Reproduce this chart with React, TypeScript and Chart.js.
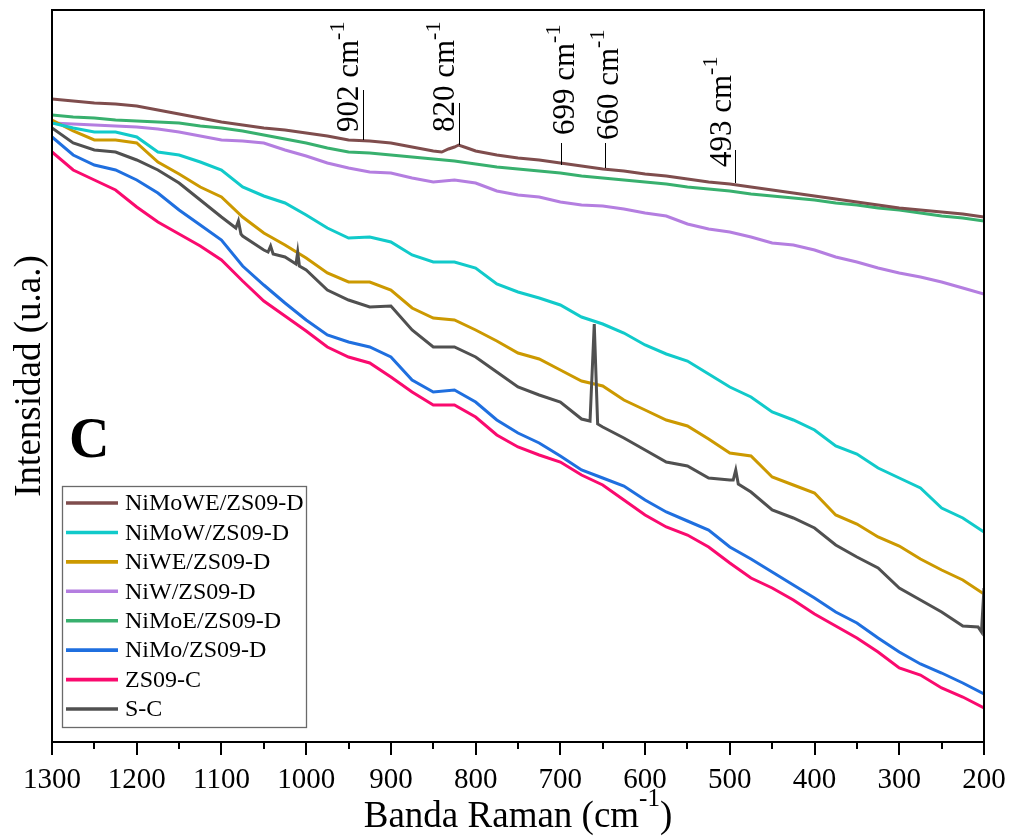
import React, { useEffect, useRef } from 'react';
import { Chart, registerables } from 'chart.js';

Chart.register(...registerables);

// ---------- DATA ----------
const wavenumber = [1300, 1275, 1250, 1225, 1200, 1175, 1150, 1125, 1100, 1075, 1050, 1025, 1000, 975, 950, 925, 900, 875, 850, 825, 800, 775, 750, 725, 700, 675, 650, 625, 600, 575, 550, 525, 500, 475, 450, 425, 400, 375, 350, 325, 300, 275, 250, 225, 200];

const niMoWE = [643, 641, 639, 638, 636, 632, 628, 624, 620, 617, 614, 612, 609, 606, 602, 601, 599, 595, 591, 595, 591, 587, 584, 582, 579, 576, 573, 571, 568, 566, 563, 560, 558, 555, 552, 549, 546, 543, 540, 537, 534, 532, 530, 528, 525];
const niMoWEExtraX = [840, 832, 820, 810];
const niMoWEExtraY = [590, 593, 597, 594];

const niMoW = [619, 614, 610, 610, 605, 590, 587, 580, 572, 555, 546, 539, 527, 514, 504, 505, 500, 487, 480, 480, 474, 458, 450, 444, 437, 425, 418, 409, 397, 388, 381, 368, 355, 345, 330, 322, 312, 296, 288, 274, 264, 254, 234, 224, 210];

const niWE = [622, 611, 602, 602, 599, 580, 568, 555, 545, 525, 509, 497, 484, 469, 460, 460, 452, 434, 424, 422, 412, 401, 389, 383, 372, 361, 356, 342, 332, 322, 316, 303, 289, 286, 265, 257, 249, 227, 218, 205, 196, 183, 172, 162, 148];

const niW = [619, 618, 617, 616, 615, 613, 610, 606, 602, 601, 599, 592, 586, 579, 574, 570, 569, 564, 560, 562, 559, 551, 547, 545, 540, 537, 536, 533, 529, 526, 518, 513, 510, 505, 499, 497, 492, 485, 480, 474, 469, 465, 460, 454, 448];

const niMoE = [627, 625, 624, 622, 621, 620, 619, 616, 614, 611, 607, 603, 599, 594, 590, 589, 587, 585, 583, 581, 578, 575, 573, 571, 569, 566, 564, 562, 560, 558, 555, 553, 551, 548, 546, 544, 542, 539, 537, 534, 532, 529, 526, 524, 521];

const niMo = [605, 587, 577, 572, 562, 549, 532, 517, 502, 476, 457, 439, 422, 407, 400, 395, 385, 362, 350, 352, 340, 322, 309, 299, 286, 272, 264, 256, 242, 230, 221, 212, 195, 183, 170, 157, 144, 130, 119, 104, 90, 78, 69, 59, 48];

const zs09C = [590, 572, 562, 552, 535, 520, 508, 496, 482, 461, 441, 426, 411, 395, 385, 379, 365, 350, 337, 337, 325, 307, 295, 287, 280, 267, 257, 242, 227, 215, 207, 195, 179, 164, 154, 142, 128, 116, 104, 90, 74, 67, 54, 45, 34];

const sC = [614, 599, 592, 590, 582, 572, 559, 542, 525, 506, 492, 485, 472, 452, 442, 435, 436, 412, 395, 395, 385, 370, 355, 347, 340, 323, 315, 304, 292, 280, 276, 264, 262, 250, 232, 224, 214, 197, 185, 174, 154, 142, 130, 116, 154];
const sCExtraX = [1083, 1080, 1077, 1045, 1042, 1039, 1012, 1010, 1008, 665, 660, 656, 496, 493, 490, 207, 203];
const sCExtraY = [514, 521, 508, 490, 496, 488, 478, 490, 476, 321, 418, 318, 262, 272, 258, 115, 110];

const majorTicks = [1300, 1200, 1100, 1000, 900, 800, 700, 600, 500, 400, 300, 200];
const minorTicks = [1250, 1150, 1050, 950, 850, 750, 650, 550, 450, 350, 250];
const tickLabels = ['1300', '1200', '1100', '1000', '900', '800', '700', '600', '500', '400', '300', '200'];

const peakLabels = ['902', '820', '699', '660', '493'];
const peakMarkX = [933, 820, 699, 647, 494];
const peakLineLow = [602, 597, 577, 574, 559];
const peakLineHigh = [652, 639, 599, 599, 592];

// ---------- LAYOUT / STYLE ----------
const SERIF = '"Liberation Serif", "Times New Roman", serif';
const peakTextLayout = [
  { dx: -6, bottom: 610 },
  { dx: -6, bottom: 610 },
  { dx: 12, bottom: 607 },
  { dx: 12, bottom: 602 },
  { dx: -5, bottom: 575 },
];

const seriesSpec = [
  { label: 'NiMoWE/ZS09-D', color: '#7f4d4d', values: niMoWE, ex: niMoWEExtraX, ey: niMoWEExtraY },
  { label: 'NiMoW/ZS09-D', color: '#11caca', values: niMoW },
  { label: 'NiWE/ZS09-D', color: '#cc9900', values: niWE },
  { label: 'NiW/ZS09-D', color: '#b47ee0', values: niW },
  { label: 'NiMoE/ZS09-D', color: '#38b06e', values: niMoE },
  { label: 'NiMo/ZS09-D', color: '#1f6fdf', values: niMo },
  { label: 'ZS09-C', color: '#fa0a6e', values: zs09C },
  { label: 'S-C', color: '#505050', values: sC, ex: sCExtraX, ey: sCExtraY },
];

function buildPoints(values: number[], ex?: number[], ey?: number[]) {
  const pts = wavenumber.map((x, i) => ({ x, y: values[i] }));
  if (ex && ey) ex.forEach((x, i) => pts.push({ x, y: ey[i] }));
  pts.sort((a, b) => b.x - a.x);
  return pts;
}

function drawSup(ctx: CanvasRenderingContext2D, x: number, y: number, base: string, sup: string, tail: string, size: number, supSize: number, raise: number) {
  ctx.font = `${size}px ${SERIF}`;
  ctx.fillText(base, x, y);
  let w = ctx.measureText(base).width;
  ctx.font = `${supSize}px ${SERIF}`;
  ctx.fillText(sup, x + w, y - raise);
  w += ctx.measureText(sup).width;
  if (tail) {
    ctx.font = `${size}px ${SERIF}`;
    ctx.fillText(tail, x + w, y);
  }
}

function supWidth(ctx: CanvasRenderingContext2D, base: string, sup: string, tail: string, size: number, supSize: number) {
  ctx.font = `${size}px ${SERIF}`;
  let w = ctx.measureText(base).width + ctx.measureText(tail).width;
  ctx.font = `${supSize}px ${SERIF}`;
  w += ctx.measureText(sup).width;
  return w;
}

const decorPlugin = {
  id: 'decor',
  afterDraw(chart: any) {
    const ctx: CanvasRenderingContext2D = chart.ctx;
    const { left, right, top, bottom } = chart.chartArea;
    const xs = chart.scales.x;
    const ys = chart.scales.y;
    ctx.save();
    ctx.fillStyle = '#000';
    ctx.strokeStyle = '#000';

    // frame
    ctx.lineWidth = 2;
    ctx.strokeRect(left, top, right - left, bottom - top);

    // ticks
    ctx.lineWidth = 2;
    majorTicks.forEach((v) => {
      const px = Math.round(xs.getPixelForValue(v));
      ctx.beginPath();
      ctx.moveTo(px, bottom);
      ctx.lineTo(px, bottom + 13);
      ctx.stroke();
    });
    minorTicks.forEach((v) => {
      const px = Math.round(xs.getPixelForValue(v));
      ctx.beginPath();
      ctx.moveTo(px, bottom);
      ctx.lineTo(px, bottom + 7);
      ctx.stroke();
    });

    // tick labels
    ctx.font = `29px ${SERIF}`;
    ctx.textAlign = 'center';
    ctx.textBaseline = 'alphabetic';
    majorTicks.forEach((v, i) => {
      ctx.fillText(tickLabels[i], xs.getPixelForValue(v), 788);
    });

    // x title
    ctx.textAlign = 'left';
    const tw = supWidth(ctx, 'Banda Raman (cm', '-1', ')', 37, 25);
    const cx = (left + right) / 2;
    drawSup(ctx, cx - tw / 2, 827, 'Banda Raman (cm', '-1', ')', 37, 25, 21);

    // y title
    ctx.save();
    ctx.translate(40, (top + bottom) / 2);
    ctx.rotate(-Math.PI / 2);
    ctx.font = `37px ${SERIF}`;
    ctx.textAlign = 'center';
    ctx.fillText('Intensidad (u.a.)', 0, 0);
    ctx.restore();

    // panel letter
    ctx.font = `bold 56px ${SERIF}`;
    ctx.textAlign = 'left';
    ctx.fillText('C', 69, 457);

    // peak annotations
    peakLabels.forEach((lab, i) => {
      const px = Math.round(xs.getPixelForValue(peakMarkX[i])) + 0.5;
      ctx.lineWidth = 1;
      ctx.beginPath();
      ctx.moveTo(px, ys.getPixelForValue(peakLineLow[i]));
      ctx.lineTo(px, ys.getPixelForValue(peakLineHigh[i]));
      ctx.stroke();
      const lay = peakTextLayout[i];
      ctx.save();
      ctx.translate(px + lay.dx, ys.getPixelForValue(lay.bottom));
      ctx.rotate(-Math.PI / 2);
      ctx.textAlign = 'left';
      drawSup(ctx, 0, 0, lab + ' cm', '-1', '', 31, 22, 14);
      ctx.restore();
    });

    // legend
    const lx = 62, ly = 486, lw = 244, lh = 241;
    ctx.strokeStyle = '#6a6a6a';
    ctx.lineWidth = 1.3;
    ctx.strokeRect(lx + 0.5, ly + 0.5, lw, lh);
    ctx.font = `24px ${SERIF}`;
    ctx.textBaseline = 'middle';
    ctx.textAlign = 'left';
    seriesSpec.forEach((s, i) => {
      const y = 503 + i * 29.43;
      ctx.strokeStyle = s.color;
      ctx.lineWidth = 3.6;
      ctx.beginPath();
      ctx.moveTo(66, y);
      ctx.lineTo(118, y);
      ctx.stroke();
      ctx.fillStyle = '#000';
      ctx.fillText(s.label, 125, y + 1);
    });

    ctx.restore();
  },
};

export default function App() {
  const ref = useRef<HTMLCanvasElement | null>(null);
  useEffect(() => {
    if (!ref.current) return;
    const datasets = seriesSpec.map((s, i) => ({
      label: s.label,
      data: buildPoints(s.values, (s as any).ex, (s as any).ey),
      borderColor: s.color,
      backgroundColor: s.color,
      borderWidth: 3,
      pointRadius: 0,
      tension: 0,
      fill: false,
      order: s.label === 'S-C' ? 0 : i + 1,
    }));
    const chart = new Chart(ref.current, {
      type: 'line',
      data: { datasets },
      options: {
        animation: false,
        responsive: false,
        devicePixelRatio: 1,
        layout: { padding: { left: 52, right: 29, top: 10, bottom: 96 } },
        plugins: { legend: { display: false }, tooltip: { enabled: false } },
        scales: {
          x: { type: 'linear', reverse: true, min: 200, max: 1300, display: false },
          y: { type: 'linear', min: 0, max: 732, display: false },
        },
      },
      plugins: [decorPlugin],
    });
    return () => chart.destroy();
  }, []);
  return (
    <div style={{ position: 'absolute', left: 0, top: 0, width: 1013, height: 838, background: '#fff' }}>
      <canvas ref={ref} width={1013} height={838} style={{ display: 'block' }} />
    </div>
  );
}
